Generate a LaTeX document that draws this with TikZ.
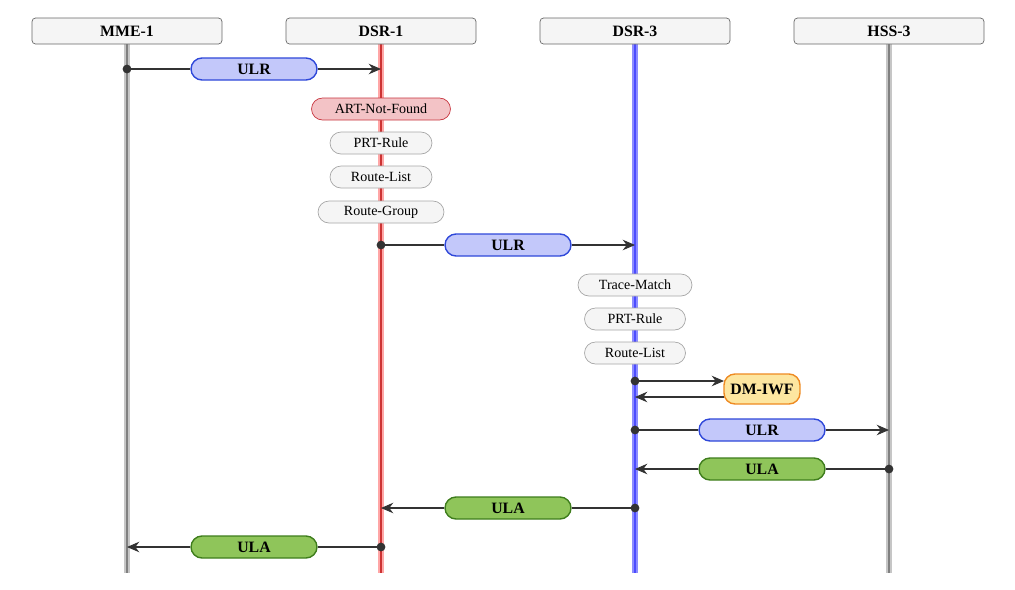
\documentclass[tikz,border=0pt]{standalone}
\usepackage{fontspec}
\setmainfont{Liberation Serif}
\usepackage{tikz}
\usetikzlibrary{arrows.meta}

\definecolor{headfill}{HTML}{F5F5F5}
\definecolor{ulrfill}{HTML}{C3C8FA}
\definecolor{ulrdraw}{HTML}{2E47D9}
\definecolor{ulafill}{HTML}{8FC55A}
\definecolor{uladraw}{HTML}{3E7D1C}
\definecolor{artfill}{HTML}{F3C3C6}
\definecolor{artdraw}{HTML}{C7333D}
\definecolor{iwffill}{HTML}{FDE6A0}
\definecolor{iwfdraw}{HTML}{EE8A22}

\tikzset{
	head/.style={draw=gray!80!black,fill=headfill,rounded corners=2pt,minimum width=3.8cm,minimum height=0.52cm,font=\bfseries\small},
	msg/.style={rounded corners=0.22cm,thick,minimum height=0.44cm,font=\bfseries\small,inner sep=2pt},
	ulr/.style={msg,draw=ulrdraw,fill=ulrfill,minimum width=2.52cm},
	ula/.style={msg,draw=uladraw,fill=ulafill,minimum width=2.52cm},
	task/.style={rounded corners=0.22cm,draw=gray!70,fill=headfill,minimum height=0.44cm,font=\footnotesize,inner sep=2pt},
	wire/.style={draw=black!80,semithick},
	arr/.style={wire,-{Stealth[length=7pt,width=6pt]}},
	dot/.style={circle,fill=black!80,inner sep=0pt,minimum size=5pt}
}

\begin{document}
\begin{tikzpicture}[x=0.02cm,y=-0.02cm]
\useasboundingbox (0,0) rectangle (1015,589);

%Lifelines
\fill[gray!45] (124,44) rectangle (130,573);
\fill[red!35] (378,44) rectangle (384,573);
\fill[blue!45] (632,44) rectangle (638,573);
\fill[gray!45] (886,44) rectangle (892,573);
\foreach \x/\c in {127/gray,381/red!60!gray,635/blue!70,889/gray}
	\draw[\c,line width=0.8pt] (\x,44) -- (\x,573);

%Headers
\node[head] (mme1) at (127,31) {MME-1};
\node[head] (dsr1) at (381,31) {DSR-1};
\node[head] (dsr3) at (635,31) {DSR-3};
\node[head] (hss3) at (889,31) {HSS-3};

%Anchor points on lifelines
\foreach \n/\x/\y in {a1/127/69,b1/381/69,a2/381/245,b2/635/245,a3/635/381,b3/724/381,a4/724/397,b4/635/397,
	a5/635/430,b5/889/430,a6/889/469,b6/635/469,a7/635/508,b7/381/508,a8/381/547,b8/127/547}
	\coordinate (\n) at (\x,\y);

%Tasks
\node[task,draw=artdraw,fill=artfill,minimum width=2.78cm] (art) at (381,109) {ART-Not-Found};
\node[task,minimum width=2.04cm] (prt1) at (381,143) {PRT-Rule};
\node[task,minimum width=2.04cm] (rl1) at (381,177) {Route-List};
\node[task,minimum width=2.52cm] (rg1) at (381,212) {Route-Group};
\node[task,minimum width=2.28cm] (tm3) at (635,285) {Trace-Match};
\node[task,minimum width=2.02cm] (prt3) at (635,319) {PRT-Rule};
\node[task,minimum width=2.02cm] (rl3) at (635,353) {Route-List};

%Messages
\node[ulr] (ulr1) at (254,69) {ULR};
\node[ulr] (ulr2) at (508,245) {ULR};
\node[msg,draw=iwfdraw,fill=iwffill,minimum width=1.52cm,minimum height=0.6cm] (iwf) at (762,389) {DM-IWF};
\node[ulr] (ulr3) at (762,430) {ULR};
\node[ula] (ula1) at (762,469) {ULA};
\node[ula] (ula2) at (508,508) {ULA};
\node[ula] (ula3) at (254,547) {ULA};

\draw[wire] (a1) -- (ulr1.west); \draw[arr] (ulr1.east) -- (b1);
\draw[wire] (a2) -- (ulr2.west); \draw[arr] (ulr2.east) -- (b2);
\draw[arr] (a3) -- (b3);
\draw[arr] (a4) -- (b4);
\draw[wire] (a5) -- (ulr3.west); \draw[arr] (ulr3.east) -- (b5);
\draw[wire] (a6) -- (ula1.east); \draw[arr] (ula1.west) -- (b6);
\draw[wire] (a7) -- (ula2.east); \draw[arr] (ula2.west) -- (b7);
\draw[wire] (a8) -- (ula3.east); \draw[arr] (ula3.west) -- (b8);

\foreach \n in {a1,a2,a3,a5,a6,a7,a8}
	\node[dot] at (\n) {};
\end{tikzpicture}
\end{document}
